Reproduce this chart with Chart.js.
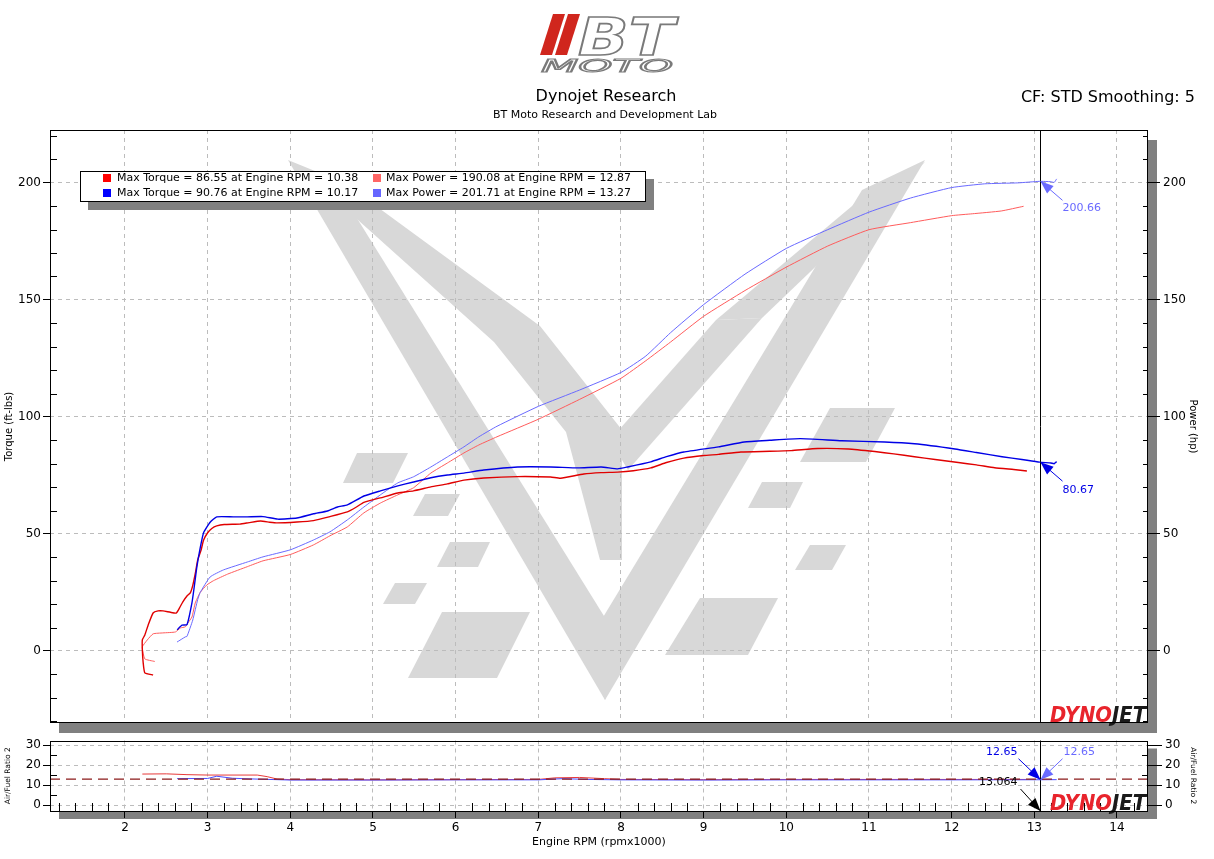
<!DOCTYPE html>
<html>
<head>
<meta charset="utf-8">
<script src="https://cdn.jsdelivr.net/npm/chart.js@4.4.1/dist/chart.umd.min.js"></script>
<style>
body{margin:0;background:#fff;font-family:"DejaVu Sans",sans-serif;color:#000;}
#wrap{position:relative;width:1214px;height:859px;overflow:hidden;background:#fff;}
canvas{position:absolute;left:0;}
#main{top:0;}
#afr{top:730px;}
.t{position:absolute;white-space:nowrap;}
#legend{position:absolute;left:80px;top:171px;width:564px;height:29px;border:1px solid #000;background:#fff;box-shadow:8px 8px 0 #808080;font-size:11px;}
#legend .sq{position:absolute;width:8px;height:8px;}
#legend .lt{position:absolute;white-space:nowrap;line-height:14px;}
</style>
</head>
<body>
<div id="wrap">
<canvas id="main" width="1214" height="740"></canvas>
<canvas id="afr" width="1214" height="129"></canvas>

<svg class="t" style="left:530px;top:4px" width="160" height="76" viewBox="530 4 160 76">
  <polygon points="553,14 565,14 552,55 540,55" fill="#d0261d"/>
  <polygon points="568,14 580,14 567,55 555,55" fill="#d0261d"/>
  <text x="578" y="55" font-family="DejaVu Sans" font-weight="bold" font-style="italic" font-size="52" fill="#fff" stroke="#7a7a7a" stroke-width="1.6" textLength="96" lengthAdjust="spacingAndGlyphs">BT</text>
  <text x="541" y="72" font-family="DejaVu Sans" font-style="italic" font-size="18" fill="#fff" stroke="#7a7a7a" stroke-width="1.1" textLength="132" lengthAdjust="spacingAndGlyphs">MOTO</text>
</svg>
<div class="t" style="left:506px;width:200px;text-align:center;top:86px;font-size:16px;line-height:20px">Dynojet Research</div>
<div class="t" style="left:455px;width:300px;text-align:center;top:108px;font-size:11px;line-height:14px">BT Moto Research and Development Lab</div>
<div class="t" style="right:19px;top:87px;font-size:16px;line-height:20px">CF: STD Smoothing: 5</div>
<div id="legend"></div>
</div>

<script>
// x axis (engine rpm x1000) and tick labels
const rpmTicks = [2, 3, 4, 5, 6, 7, 8, 9, 10, 11, 12, 13, 14];
const torqueTicks = [0, 50, 100, 150, 200];
const powerTicks = [0, 50, 100, 150, 200];
const afrTicks = [0, 10, 20, 30];

// run 1 torque (red)
const torque1Rpm = [2.34, 2.24, 2.22, 2.21, 2.21, 2.24, 2.28, 2.34, 2.40, 2.46, 2.55, 2.62, 2.66, 2.70, 2.75, 2.79, 2.82, 2.85, 2.88, 2.92, 2.95, 3.00, 3.05, 3.11, 3.20, 3.39, 3.50, 3.64, 3.75, 3.84, 4.08, 4.28, 4.48, 4.69, 4.80, 4.89, 5.09, 5.30, 5.49, 5.70, 5.90, 6.10, 6.34, 6.75, 7.15, 7.27, 7.55, 7.76, 7.96, 8.15, 8.36, 8.55, 8.76, 9.00, 9.18, 9.45, 9.80, 10.06, 10.38, 10.75, 11.07, 11.30, 11.55, 11.80, 12.08, 12.30, 12.52, 12.75, 12.91];
const torque1 = [-10.3, -9.4, -5, 0.4, 4.7, 6.8, 11, 16.2, 17.1, 17.1, 16.5, 16.2, 18.4, 21, 23.5, 24.8, 28, 33, 38.9, 43, 47.3, 50.5, 52.3, 53.4, 54, 54.2, 54.8, 55.5, 55, 54.7, 55.1, 55.7, 57.4, 59.4, 61.5, 63.5, 65.4, 67.5, 68.4, 70.1, 71.4, 73, 73.9, 74.5, 74.3, 73.8, 75.6, 76.2, 76.4, 77, 78.2, 80.5, 82.4, 83.5, 84, 85, 85.3, 85.6, 86.5, 86.3, 85.2, 84.2, 83, 81.8, 80.5, 79.5, 78.3, 77.5, 76.9];

// run 2 torque (blue)
const torque2Rpm = [2.63, 2.69, 2.75, 2.81, 2.84, 2.87, 2.91, 2.95, 3.03, 3.11, 3.31, 3.48, 3.67, 3.85, 4.08, 4.28, 4.45, 4.57, 4.69, 4.89, 5.09, 5.30, 5.49, 5.70, 5.90, 6.10, 6.34, 6.75, 7.15, 7.48, 7.76, 7.96, 8.08, 8.36, 8.55, 8.76, 9.18, 9.49, 9.80, 10.17, 10.67, 11.19, 11.55, 12.04, 12.30, 12.61, 12.85, 13.064, 13.20, 13.24, 13.27];
const torque2 = [9, 11, 11.2, 20.5, 28, 36, 44, 50.4, 55, 57.3, 57.3, 57.3, 57.4, 56.3, 56.8, 58.6, 59.8, 61.5, 62.4, 66.2, 68.4, 70.5, 72.2, 74, 75.2, 76, 77.3, 78.6, 78.6, 78.2, 78.6, 77.8, 78.6, 80.8, 83, 85, 87.2, 89.3, 90, 90.7, 89.8, 89.3, 88.5, 86.3, 84.8, 83, 81.8, 80.67, 80.3, 80.0, 80.9];

// run 1 power (light red)
const power1Rpm = [2.36, 2.24, 2.21, 2.27, 2.34, 2.46, 2.61, 2.67, 2.73, 2.76, 2.81, 2.85, 2.91, 2.99, 3.07, 3.24, 3.48, 3.67, 4.00, 4.28, 4.48, 4.69, 4.89, 5.09, 5.30, 5.49, 5.70, 5.90, 6.10, 6.28, 6.50, 7.00, 7.50, 8.00, 8.30, 8.60, 9.00, 9.50, 10.00, 10.50, 11.00, 11.50, 12.00, 12.25, 12.60, 12.87];
const power1 = [-4.5, -3.4, 1.7, 4.7, 7.3, 7.7, 8.1, 9.8, 10.3, 11.9, 14.5, 20.5, 25, 28.2, 30, 32.8, 36, 38.5, 41.2, 45.3, 49.2, 53, 59, 63.2, 66.7, 69.7, 76, 80.3, 84.6, 88, 91.5, 99, 107.5, 116.5, 124, 132, 143, 154, 164, 173, 180, 183, 186, 186.8, 188, 190];

// run 2 power (light blue)
const power2Rpm = [2.63, 2.73, 2.75, 2.82, 2.88, 2.91, 3.03, 3.19, 3.48, 3.67, 4.00, 4.28, 4.48, 4.69, 4.89, 5.09, 5.30, 5.49, 5.70, 5.90, 6.10, 6.28, 6.50, 7.00, 7.50, 8.00, 8.30, 8.60, 9.00, 9.50, 10.00, 10.50, 11.00, 11.50, 12.00, 12.40, 12.80, 13.064, 13.20, 13.24, 13.27];
const power2 = [3.8, 6, 6.2, 13.2, 22, 25, 31.6, 34.6, 38, 40.2, 43.2, 47.4, 50.9, 56, 61.5, 66.7, 71.8, 74.4, 78.6, 82.9, 87.2, 91.5, 96, 104.5, 111.5, 119, 126, 136, 148, 161, 172, 180, 187.5, 193.5, 198, 199.6, 200, 200.66, 200.5, 200.2, 201.7];

// air/fuel ratio
const afr1Rpm = [2.21, 2.50, 2.75, 3.00, 3.60, 3.72, 3.84, 4.00, 5.00, 6.00, 7.00, 7.20, 7.50, 7.80, 8.00, 9.00, 10.00, 11.00, 12.00, 12.90];
const afr1 = [15.5, 15.6, 15.2, 15.0, 15.0, 14.2, 13.0, 12.7, 12.6, 12.7, 12.8, 13.6, 13.8, 13.2, 12.8, 12.7, 12.8, 12.8, 12.8, 12.8];
const afr2Rpm = [2.63, 3.00, 3.11, 3.30, 3.50, 4.00, 5.00, 6.00, 7.00, 7.30, 7.60, 8.00, 9.00, 10.00, 11.00, 12.00, 13.064, 13.27];
const afr2 = [13.2, 13.3, 14.4, 13.4, 13.1, 12.5, 12.5, 12.6, 12.6, 13.2, 12.8, 12.6, 12.5, 12.6, 12.6, 12.6, 12.65, 12.7];
const afrTarget = 13.0;

// cursor readout
const cursorRpm = 13.064;
const cursorTorque2 = 80.67;
const cursorPower2 = 200.66;
const cursorAfrA = 12.65;
const cursorAfrB = 12.65;

const legendText = [
  'Max Torque = 86.55 at Engine RPM = 10.38',
  'Max Power = 190.08 at Engine RPM = 12.87',
  'Max Torque = 90.76 at Engine RPM = 10.17',
  'Max Power = 201.71 at Engine RPM = 13.27'
];

const xMin = 1.093, xMax = 14.375;
const yMin = -30.8, yMax = 222.6;
const afrMin = -3, afrMax = 32.3;

const red = '#e00000', lightRed = '#ff5c5c', blue = '#0000e6', lightBlue = '#6a6aff';
const gridGrey = '#bcbcbc';

Chart.defaults.font.family = '"DejaVu Sans", sans-serif';
Chart.defaults.color = '#000';

// legend
const legendColors = ['#ff0000', '#ff6666', '#0000ff', '#6666ff'];
const legend = document.getElementById('legend');
legendText.forEach((txt, i) => {
  const col = i % 2, row = Math.floor(i / 2);
  const sq = document.createElement('div');
  sq.className = 'sq';
  sq.style.background = legendColors[i];
  sq.style.left = (col ? 292 : 22) + 'px';
  sq.style.top = (row ? 17 : 2) + 'px';
  legend.appendChild(sq);
  const t = document.createElement('div');
  t.className = 'lt';
  t.textContent = txt;
  t.style.left = (col ? 305 : 36) + 'px';
  t.style.top = (row ? 14 : -1) + 'px';
  legend.appendChild(t);
});

function pts(xs, ys) {
  return xs.map((x, i) => ({x: x, y: ys[i]}));
}

// background watermark (page coords of the main canvas)
const wmPolys = [
  [[288,160],[332,178],[622,645],[605,700]],
  [[925,160],[605,700],[588,642],[862,190]],
  [[300,168],[346,184],[540,326],[622,430],[622,560],[600,560],[566,432],[494,342]],
  [[876,186],[925,162],[762,318],[716,320]],
  [[716,320],[762,318],[628,470],[610,440]],
  [[357,453],[408,453],[393,483],[343,483]],
  [[425,494],[460,494],[448,516],[413,516]],
  [[450,542],[490,542],[478,567],[437,567]],
  [[395,583],[427,583],[415,604],[383,604]],
  [[442,612],[530,612],[497,678],[408,678]],
  [[830,408],[895,408],[866,462],[800,462]],
  [[762,482],[803,482],[790,508],[748,508]],
  [[810,545],[846,545],[832,570],[795,570]],
  [[700,598],[778,598],[748,655],[665,655]]
];

function drawWatermark(ctx) {
  ctx.fillStyle = '#d8d8d8';
  wmPolys.forEach(p => {
    ctx.beginPath();
    p.forEach((q, i) => i ? ctx.lineTo(q[0], q[1]) : ctx.moveTo(q[0], q[1]));
    ctx.closePath();
    ctx.fill();
  });
}

function drawArrow(ctx, x0, y0, x1, y1, color) {
  const ang = Math.atan2(y1 - y0, x1 - x0);
  const L = 13, W = 5;
  ctx.strokeStyle = color;
  ctx.fillStyle = color;
  ctx.lineWidth = 1;
  ctx.beginPath();
  ctx.moveTo(x0, y0);
  ctx.lineTo(x1, y1);
  ctx.stroke();
  ctx.beginPath();
  ctx.moveTo(x1, y1);
  ctx.lineTo(x1 - L * Math.cos(ang) + W * Math.sin(ang), y1 - L * Math.sin(ang) - W * Math.cos(ang));
  ctx.lineTo(x1 - L * Math.cos(ang) - W * Math.sin(ang), y1 - L * Math.sin(ang) + W * Math.cos(ang));
  ctx.closePath();
  ctx.fill();
}

function minorRange(a, b, step, skip) {
  const out = [];
  for (let v = a; v <= b + 1e-9; v += step) {
    const r = Math.round(v * 10) / 10;
    if (Math.abs(r / skip - Math.round(r / skip)) > 1e-6) out.push(r);
  }
  return out;
}

const framePlugin = {
  id: 'frame',
  beforeDraw(chart, args, opts) {
    const {ctx, chartArea: a} = chart;
    ctx.save();
    ctx.fillStyle = '#808080';
    ctx.fillRect(a.left + 9, a.top + opts.shadowY, a.right - a.left, a.bottom - a.top);
    ctx.fillStyle = '#fff';
    ctx.fillRect(a.left, a.top, a.right - a.left, a.bottom - a.top);
    if (opts.watermark) drawWatermark(ctx);
    ctx.restore();
  },
  afterDraw(chart, args, opts) {
    const {ctx, chartArea: a, scales} = chart;
    ctx.save();
    ctx.strokeStyle = '#000';
    ctx.lineWidth = 1;
    (opts.minor || []).forEach(m => {
      const s = scales[m.axis];
      m.values.forEach(v => {
        const p = Math.round(s.getPixelForValue(v)) + 0.5;
        ctx.beginPath();
        if (m.side === 'left') { ctx.moveTo(a.left, p); ctx.lineTo(a.left + m.len, p); }
        else if (m.side === 'right') { ctx.moveTo(a.right, p); ctx.lineTo(a.right - m.len, p); }
        else { ctx.moveTo(p, a.bottom); ctx.lineTo(p, a.bottom - m.len); }
        ctx.stroke();
      });
    });

    // dynojet mark
    ctx.font = 'italic bold 22px "DejaVu Sans"';
    ctx.textBaseline = 'alphabetic';
    ctx.textAlign = 'left';
    const full = ctx.measureText('DYNOJET').width;
    const wDyno = ctx.measureText('DYNO').width;
    ctx.save();
    ctx.translate(a.right - 98, a.bottom - 1);
    ctx.scale(96 / full, 1);
    ctx.fillStyle = '#e8242c';
    ctx.fillText('DYNO', 0, 0);
    ctx.fillStyle = '#1a1a1a';
    ctx.fillText('JET', wDyno, 0);
    ctx.restore();

    ctx.strokeStyle = '#000';
    ctx.strokeRect(Math.round(a.left) + 0.5, Math.round(a.top) + 0.5, Math.round(a.right - a.left) - 1, Math.round(a.bottom - a.top) - 1);

    const cx = Math.round(scales.x.getPixelForValue(cursorRpm)) + 0.5;
    ctx.beginPath();
    ctx.moveTo(cx, a.top);
    ctx.lineTo(cx, a.bottom);
    ctx.stroke();

    ctx.font = '11px "DejaVu Sans"';
    ctx.textBaseline = 'middle';
    (opts.readouts || []).forEach(r => {
      const tx = cx;
      const ty = r.axis ? scales[r.axis].getPixelForValue(r.value) : a.bottom;
      drawArrow(ctx, tx + r.lx, ty + r.ly, tx, ty, r.color);
      ctx.fillStyle = r.color;
      ctx.textAlign = r.align;
      ctx.fillText(r.text, tx + r.tx, ty + r.ty);
    });
    ctx.restore();
  }
};

function fixedTicks(list) {
  return s => { s.ticks = list.map(v => ({value: v})); };
}

new Chart(document.getElementById('main'), {
  type: 'line',
  data: {
    datasets: [
      {data: pts(torque2Rpm, torque2), borderColor: blue, borderWidth: 1.4, yAxisID: 'y'},
      {data: pts(torque1Rpm, torque1), borderColor: red, borderWidth: 1.4, yAxisID: 'y'},
      {data: pts(power2Rpm, power2), borderColor: lightBlue, borderWidth: 1, yAxisID: 'y2'},
      {data: pts(power1Rpm, power1), borderColor: lightRed, borderWidth: 1, yAxisID: 'y2'}
    ]
  },
  options: {
    responsive: false,
    animation: false,
    events: [],
    layout: {padding: {top: 130, bottom: 17, left: 0, right: 0}},
    elements: {point: {radius: 0}, line: {tension: 0.15}},
    plugins: {
      legend: {display: false},
      tooltip: {enabled: false},
      frame: {
        shadowY: 10,
        watermark: true,
        minor: [
          {axis: 'y', side: 'left', len: 7, values: minorRange(-30, 220, 10, 50)},
          {axis: 'y2', side: 'right', len: 5, values: minorRange(-30, 220, 10, 50)}
        ],
        readouts: [
          {axis: 'y2', value: cursorPower2, text: cursorPower2.toFixed(2), color: lightBlue, lx: 22, ly: 19, tx: 22, ty: 27, align: 'left'},
          {axis: 'y', value: cursorTorque2, text: cursorTorque2.toFixed(2), color: blue, lx: 22, ly: 19, tx: 22, ty: 28, align: 'left'}
        ]
      }
    },
    scales: {
      x: {
        type: 'linear', min: xMin, max: xMax,
        afterBuildTicks: fixedTicks(rpmTicks),
        afterFit: s => { s.height = 0; },
        ticks: {display: false},
        grid: {color: gridGrey, drawTicks: false},
        border: {display: false, dash: [4, 4]}
      },
      y: {
        position: 'left', min: yMin, max: yMax,
        afterBuildTicks: fixedTicks(torqueTicks),
        afterFit: s => { s.width = 50; },
        ticks: {padding: 2, font: {size: 12}},
        grid: {color: gridGrey, tickColor: '#000', tickLength: 7},
        border: {display: false, dash: [4, 4]},
        title: {display: true, text: 'Torque (ft-lbs)', font: {size: 10}, padding: {top: 3, bottom: 0}}
      },
      y2: {
        position: 'right', min: yMin, max: yMax,
        afterBuildTicks: fixedTicks(powerTicks),
        afterFit: s => { s.width = 66; },
        ticks: {padding: 3, font: {size: 12}},
        grid: {drawOnChartArea: false, tickColor: '#000', tickLength: 12},
        border: {display: false},
        title: {display: true, text: 'Power (hp)', font: {size: 10}, padding: {top: 15, bottom: 0}}
      }
    }
  },
  plugins: [framePlugin]
});

new Chart(document.getElementById('afr'), {
  type: 'line',
  data: {
    datasets: [
      {data: pts([xMin, xMax], [afrTarget, afrTarget]), borderColor: '#8b1a1a', borderWidth: 1.2, borderDash: [10, 6], yAxisID: 'y'},
      {data: pts(afr2Rpm, afr2), borderColor: '#4b4bff', borderWidth: 1, yAxisID: 'y'},
      {data: pts(afr1Rpm, afr1), borderColor: '#e83a3a', borderWidth: 1, yAxisID: 'y'}
    ]
  },
  options: {
    responsive: false,
    animation: false,
    events: [],
    layout: {padding: {top: 10.5, bottom: 0, left: 0, right: 0}},
    elements: {point: {radius: 0}, line: {tension: 0}},
    plugins: {
      legend: {display: false},
      tooltip: {enabled: false},
      frame: {
        shadowY: 8,
        watermark: false,
        minor: [
          {axis: 'y', side: 'left', len: 7, values: minorRange(5, 25, 10, 10)},
          {axis: 'y2', side: 'right', len: 6, values: minorRange(5, 25, 10, 10)},
          {axis: 'x', side: 'bottom', len: 8, values: minorRange(1.2, 14.2, 0.2, 1)}
        ],
        readouts: [
          {axis: 'y', value: cursorAfrA, text: cursorAfrA.toFixed(2), color: blue, lx: -22, ly: -21, tx: -23, ty: -28, align: 'right'},
          {axis: 'y2', value: cursorAfrB, text: cursorAfrB.toFixed(2), color: lightBlue, lx: 22, ly: -21, tx: 23, ty: -28, align: 'left'},
          {axis: null, value: 0, text: cursorRpm.toFixed(3), color: '#000', lx: -20, ly: -22, tx: -23, ty: -29, align: 'right'}
        ]
      }
    },
    scales: {
      x: {
        type: 'linear', min: xMin, max: xMax,
        afterBuildTicks: fixedTicks(rpmTicks),
        afterFit: s => { s.height = 48; },
        ticks: {padding: 3, font: {size: 12}},
        grid: {color: gridGrey, tickColor: '#000', tickLength: 7},
        border: {display: false, dash: [4, 4]},
        title: {display: true, text: 'Engine RPM (rpmx1000)', font: {size: 11}, padding: {top: 0, bottom: 10}}
      },
      y: {
        position: 'left', min: afrMin, max: afrMax,
        afterBuildTicks: fixedTicks(afrTicks),
        afterFit: s => { s.width = 50; },
        ticks: {padding: 2, font: {size: 12}},
        grid: {color: gridGrey, tickColor: '#000', tickLength: 7},
        border: {display: false, dash: [4, 4]},
        title: {display: true, text: 'Air/Fuel Ratio 2', font: {size: 7.5}, padding: {top: 3.5, bottom: 0}}
      },
      y2: {
        position: 'right', min: afrMin, max: afrMax,
        afterBuildTicks: fixedTicks(afrTicks),
        afterFit: s => { s.width = 66; },
        ticks: {padding: 3, font: {size: 12}},
        grid: {drawOnChartArea: false, tickColor: '#000', tickLength: 14},
        border: {display: false},
        title: {display: true, text: 'Air/Fuel Ratio 2', font: {size: 7.5}, padding: {top: 16.5, bottom: 0}}
      }
    }
  },
  plugins: [framePlugin]
});
</script>
</body>
</html>
